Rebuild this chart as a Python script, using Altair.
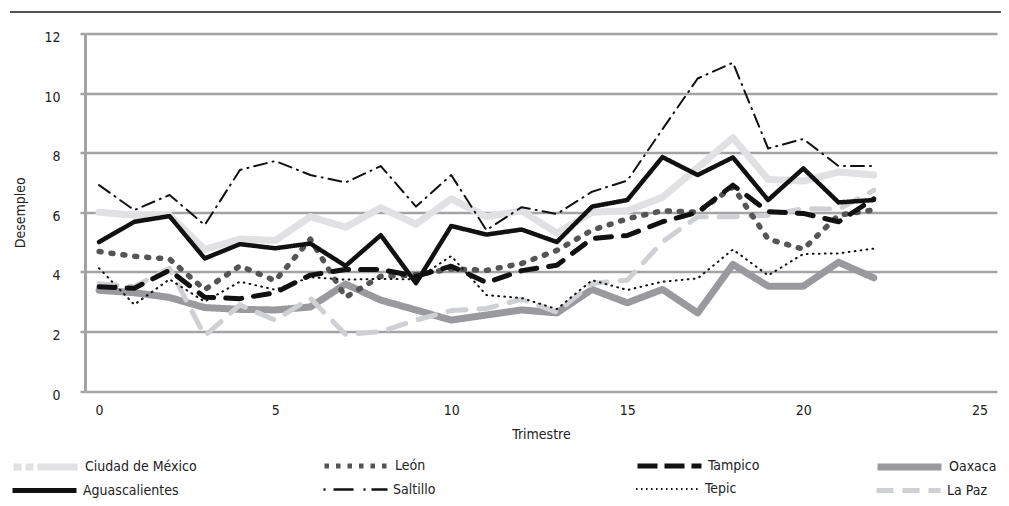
import altair as alt
import pandas as pd

trimestre = list(range(23))

ciudad_de_mexico = [6.0, 5.9, 5.9, 4.75, 5.1, 5.05, 5.85, 5.5, 6.15, 5.6, 6.45, 5.85, 6.05, 5.3, 6.0, 6.05, 6.5, 7.5, 8.5, 7.1, 7.05, 7.35, 7.25]
aguascalientes = [5.0, 5.68, 5.87, 4.45, 4.93, 4.79, 4.95, 4.2, 5.23, 3.62, 5.54, 5.25, 5.42, 5.0, 6.19, 6.41, 7.85, 7.25, 7.84, 6.41, 7.47, 6.33, 6.41]
leon = [4.68, 4.52, 4.43, 3.4, 4.2, 3.7, 5.1, 3.15, 3.85, 3.9, 4.1, 4.05, 4.28, 4.72, 5.4, 5.78, 6.05, 6.0, 6.85, 5.1, 4.76, 5.9, 6.08]
saltillo = [6.91, 6.07, 6.58, 5.57, 7.42, 7.72, 7.25, 7.0, 7.55, 6.19, 7.25, 5.4, 6.17, 5.94, 6.69, 7.06, 8.79, 10.49, 11.02, 8.14, 8.46, 7.55, 7.55]
tampico = [3.5, 3.45, 4.05, 3.15, 3.1, 3.3, 3.89, 4.08, 4.08, 3.85, 4.19, 3.64, 4.04, 4.22, 5.12, 5.22, 5.68, 6.0, 6.91, 6.02, 5.96, 5.68, 6.45]
tepic = [4.12, 2.9, 3.75, 3.0, 3.67, 3.4, 3.82, 3.74, 3.76, 3.75, 4.53, 3.22, 3.12, 2.75, 3.72, 3.39, 3.67, 3.78, 4.75, 3.88, 4.6, 4.62, 4.78]
oaxaca = [3.38, 3.3, 3.14, 2.8, 2.74, 2.72, 2.82, 3.59, 3.05, 2.72, 2.38, 2.55, 2.72, 2.62, 3.41, 2.96, 3.41, 2.62, 4.25, 3.52, 3.52, 4.32, 3.8]
la_paz = [3.6, 3.5, 4.12, 1.85, 2.89, 2.38, 3.11, 1.9, 1.99, 2.38, 2.7, 2.77, 3.08, 2.65, 3.61, 3.72, 5.01, 5.85, 5.85, 5.9, 6.12, 6.1, 6.74]

legend_order = ["Ciudad de México", "León", "Tampico", "Oaxaca",
                "Aguascalientes", "Saltillo", "Tepic", "La Paz"]
colors = ["#e1e1e3", "#555555", "#111111", "#9a9a9e",
          "#111111", "#111111", "#111111", "#cfd0d3"]
# dash patterns of the plotted lines (drawn with round caps)
dashes = [[1, 0], [2, 10], [16, 12], [1, 0],
          [1, 0], [13, 6, 1, 6], [0.8, 5.2], [18, 13]]
# dash patterns of the legend samples (drawn with butt caps)
legend_dashes = [[8, 4, 8, 4, 44, 100], [4.5, 7], [20, 7], [1, 0],
                 [1, 0], [2, 8, 20, 10, 2, 6, 20], [1.5, 3.5], [17, 9]]
widths = [7, 5.5, 5, 7, 4.5, 2, 2, 5]
legend_widths = [7, 5, 5, 7, 5, 2.5, 2, 5]

# legend grid: column of each entry and row of each entry
legend_col = [0, 1, 2, 3, 0, 1, 2, 3]
legend_row = [0, 0, 0, 0, 1, 1, 1, 1]

# drawing order (bottom to top)
series = [
    ("Ciudad de México", ciudad_de_mexico),
    ("Oaxaca", oaxaca),
    ("La Paz", la_paz),
    ("León", leon),
    ("Tepic", tepic),
    ("Saltillo", saltillo),
    ("Tampico", tampico),
    ("Aguascalientes", aguascalientes),
]

rows = []
for k, (name, vals) in enumerate(series):
    for t, v in zip(trimestre, vals):
        rows.append({"Trimestre": t, "Desempleo": v, "Ciudad": name, "orden": k})
df = pd.DataFrame(rows)

FONT = "'DejaVu Sans Condensed', 'Liberation Sans Narrow', Roboto, sans-serif"
GRID = "#a3a3a6"
TXT = "#222222"
SYM = 64  # legend sample length (px)
COL_X = [-75, 237, 550, 789]
ROW_Y = [398, 422.5]

x_enc = alt.X("Trimestre:Q",
              scale=alt.Scale(domain=[-0.4, 25.5], nice=False, zero=False),
              axis=alt.Axis(values=[0, 5, 10, 15, 20, 25], grid=False, domain=False,
                            ticks=False, labelPadding=12, titlePadding=10,
                            labelFont=FONT, labelFontSize=14, labelColor=TXT,
                            titleFont=FONT, titleFontSize=14, titleFontWeight="normal",
                            titleColor=TXT))
y_enc = alt.Y("Desempleo:Q",
              scale=alt.Scale(domain=[0, 12], nice=False),
              axis=alt.Axis(values=[0, 2, 4, 6, 8, 10, 12], grid=True, gridColor=GRID,
                            gridWidth=2.5, domain=True, domainColor=GRID, domainWidth=3,
                            ticks=True, tickSize=5, tickColor=GRID, tickWidth=2.5,
                            labelPadding=20, labelOffset=4,
                            labelFont=FONT, labelFontSize=14, labelColor=TXT,
                            titleFont=FONT, titleFontSize=14, titleFontWeight="normal",
                            titleColor=TXT, titlePadding=16))

lines = alt.Chart(df).mark_line(strokeCap="round", strokeJoin="round").encode(
    x=x_enc, y=y_enc, order=alt.Order("orden:Q"),
    color=alt.Color("Ciudad:N", scale=alt.Scale(domain=legend_order, range=colors), legend=None),
    strokeDash=alt.StrokeDash("Ciudad:N", scale=alt.Scale(domain=legend_order, range=dashes),
                              legend=None),
    strokeWidth=alt.StrokeWidth("Ciudad:N",
                                scale=alt.Scale(type="ordinal", domain=legend_order, range=widths),
                                legend=None),
)

legend_layers = []
for i, name in enumerate(legend_order):
    lg = alt.Legend(
        title=None, orient="none", legendX=COL_X[legend_col[i]], legendY=ROW_Y[legend_row[i]],
        values=[name], symbolType="stroke", symbolSize=SYM * SYM,
        labelFont=FONT, labelFontSize=14, labelColor=TXT, labelOffset=4,
    )
    legend_layers.append(
        alt.Chart(df).mark_line().encode(
            x="Trimestre:Q", y="Desempleo:Q",
            color=alt.Color("Ciudad:N", scale=alt.Scale(domain=legend_order, range=colors),
                            legend=lg),
            strokeDash=alt.StrokeDash("Ciudad:N",
                                      scale=alt.Scale(domain=legend_order, range=legend_dashes),
                                      legend=lg),
            strokeWidth=alt.StrokeWidth("Ciudad:N",
                                        scale=alt.Scale(type="ordinal", domain=legend_order,
                                                        range=legend_widths),
                                        legend=lg),
        ).transform_filter("datum.orden < 0")
    )

top_rule = alt.Chart(df).mark_rule(color="#555555", strokeWidth=1).encode(
    x=alt.value(-75), x2=alt.value(924), y=alt.value(-21.5)
)

chart = alt.layer(top_rule, lines, *legend_layers).resolve_scale(
    color="independent", strokeDash="independent", strokeWidth="independent"
).resolve_legend(
    color="independent", strokeDash="independent", strokeWidth="independent"
).properties(
    width=912, height=357.5,
    padding={"left": 77, "top": 25.5, "right": 4, "bottom": 107},
    autosize=alt.AutoSizeParams(type="none"),
).configure_view(strokeWidth=0)

chart.save("out.html", embed_options={"renderer": "svg", "actions": False})
